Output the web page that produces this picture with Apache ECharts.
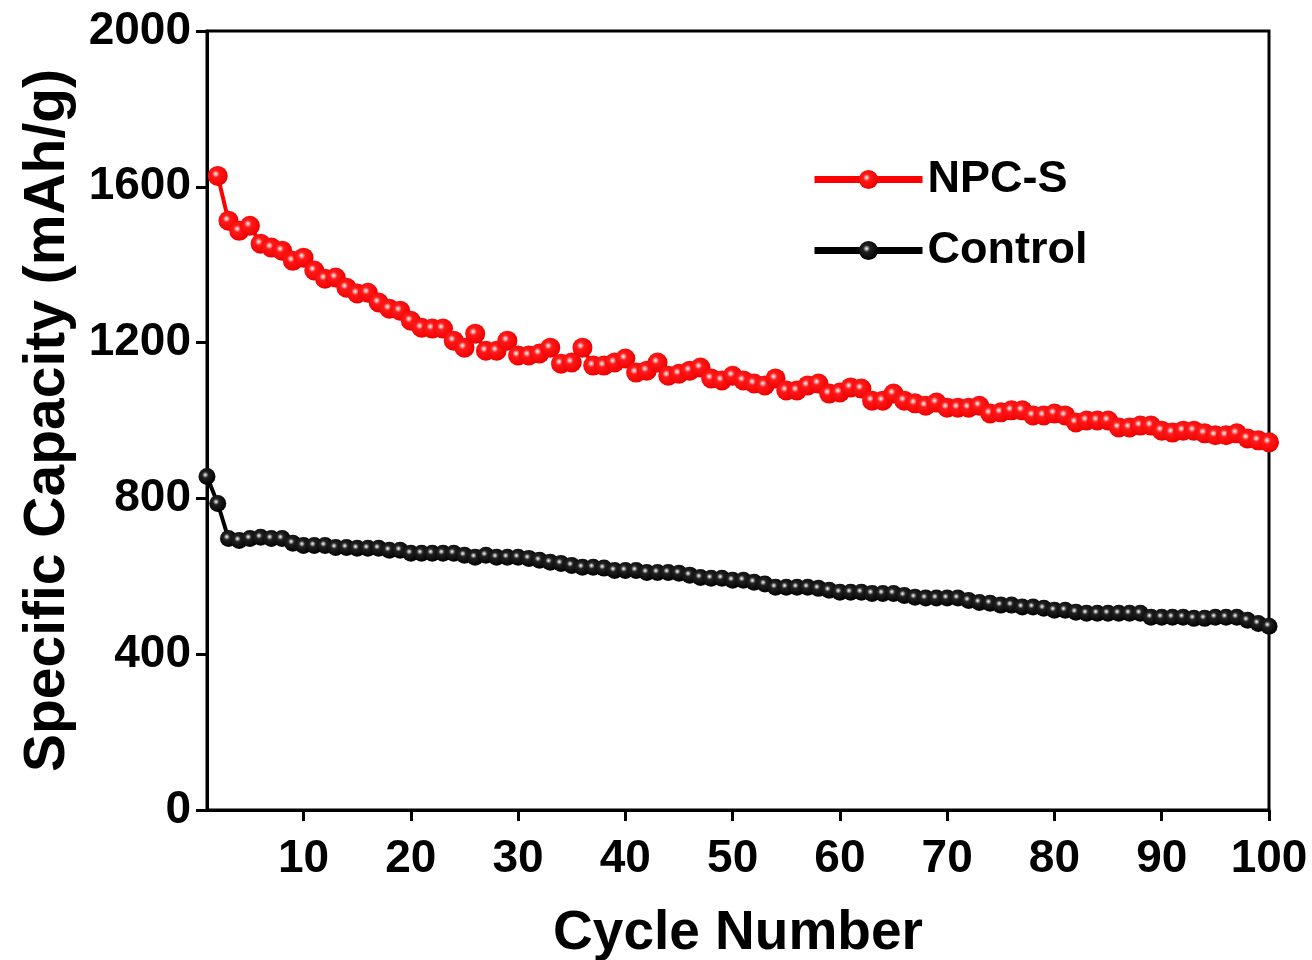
<!DOCTYPE html>
<html lang="en" style="height: 100%">
<head>
  <meta charset="utf-8">
  <title>Cycling performance</title>
</head>
<body style="height: 100%; margin: 0; background: #fff;">
  <div id="container" style="width: 1312px; height: 960px;"></div>

  <script type="text/javascript" src="https://cdn.jsdelivr.net/npm/echarts@6/dist/echarts.min.js"></script>
  <script type="text/javascript">
    // cycle numbers shown on the x axis
    var cycleTicks = [10, 20, 30, 40, 50, 60, 70, 80, 90, 100];
    var capacityTicks = [0, 400, 800, 1200, 1600, 2000];

    // specific capacity (mAh/g), one value per cycle 1..100
    var npcS = [
      null, 1628, 1513, 1487, 1500, 1454, 1444, 1436, 1410, 1418,
      1385, 1364, 1367, 1341, 1326, 1328, 1303, 1287, 1282, 1256,
      1238, 1236, 1236, 1205, 1187, 1223, 1179, 1179, 1205, 1167,
      1167, 1172, 1187, 1146, 1149, 1187, 1141, 1141, 1149, 1159,
      1123, 1128, 1149, 1115, 1120, 1128, 1136, 1108, 1103, 1115,
      1103, 1095, 1090, 1108, 1077, 1077, 1090, 1095, 1069, 1072,
      1085, 1082, 1051, 1051, 1069, 1051, 1044, 1038, 1046, 1033,
      1033, 1033, 1038, 1018, 1021, 1026, 1026, 1013, 1013, 1018,
      1013, 995, 1000, 1000, 1000, 982, 982, 987, 987, 974,
      969, 974, 974, 967, 962, 962, 967, 954, 949, 944
    ];
    var control = [
      856, 787, 697, 692, 697, 700, 697, 697, 685, 679,
      679, 679, 674, 674, 672, 672, 672, 667, 667, 659,
      659, 659, 659, 659, 654, 649, 654, 649, 649, 649,
      646, 641, 636, 633, 628, 623, 623, 621, 615, 615,
      615, 610, 610, 610, 608, 603, 597, 595, 595, 590,
      590, 585, 580, 572, 572, 572, 572, 569, 564, 559,
      559, 559, 556, 556, 556, 551, 546, 544, 544, 544,
      544, 538, 533, 531, 526, 526, 521, 521, 518, 513,
      513, 508, 505, 505, 505, 505, 505, 505, 495, 495,
      495, 495, 492, 492, 495, 495, 495, 487, 479, 472
    ];

    function toPairs(arr) {
      return arr.map(function (v, i) { return [i + 1, v]; });
    }

    function ball(base, dark) {
      return {
        type: 'radial', x: 0.4, y: 0.4, r: 0.6,
        colorStops: [
          { offset: 0, color: '#ffffff' },
          { offset: 0.3, color: base },
          { offset: 1, color: dark }
        ]
      };
    }

    var fontFamily = '"Liberation Sans", Arial, sans-serif';
    var dom = document.getElementById('container');
    var myChart = echarts.init(dom, null, { renderer: 'canvas' });

    var option = {
      backgroundColor: '#ffffff',
      animation: false,
      grid: {
        left: 207, right: 43, top: 31, bottom: 150,
        outerBoundsMode: 'none',
        show: true, borderColor: '#000', borderWidth: 3
      },
      legend: {
        left: 806, top: 152,
        orient: 'vertical',
        itemWidth: 108, itemHeight: 24, itemGap: 26,
        lineStyle: { width: 7 },
        textStyle: { fontFamily: fontFamily, fontSize: 45, fontWeight: 'bold', color: '#000' },
        data: ['NPC-S', 'Control']
      },
      xAxis: {
        type: 'value', min: 1, max: 100,
        name: 'Cycle Number', nameLocation: 'middle', nameGap: 96,
        nameTextStyle: { fontFamily: fontFamily, fontSize: 55, fontWeight: 'bold', color: '#000' },
        splitLine: { show: false },
        axisLine: { lineStyle: { color: '#000', width: 3 } },
        axisTick: { customValues: cycleTicks, length: 11, lineStyle: { width: 3, color: '#000' } },
        axisLabel: {
          customValues: cycleTicks, margin: 26,
          fontFamily: fontFamily, fontSize: 46, fontWeight: 'bold', color: '#000'
        }
      },
      yAxis: {
        type: 'value', min: 0, max: 2000, interval: 400,
        name: 'Specific Capacity (mAh/g)', nameLocation: 'middle', nameGap: 130,
        nameTextStyle: { fontFamily: fontFamily, fontSize: 57, fontWeight: 'bold', color: '#000' },
        splitLine: { show: false },
        axisLine: { show: true, lineStyle: { color: '#000', width: 3 } },
        axisTick: { show: true, length: 11, lineStyle: { width: 3, color: '#000' } },
        axisLabel: {
          margin: 16, fontFamily: fontFamily, fontSize: 46, fontWeight: 'bold', color: '#000',
          formatter: function (v) { return capacityTicks.indexOf(v) >= 0 ? String(v) : ''; }
        }
      },
      series: [
        {
          name: 'Control', type: 'line',
          data: toPairs(control),
          symbol: 'circle', symbolSize: 17,
          lineStyle: { color: '#000', width: 4 },
          itemStyle: { color: ball('#222', '#000'), borderWidth: 0 },
          z: 2
        },
        {
          name: 'NPC-S', type: 'line',
          data: toPairs(npcS),
          symbol: 'circle', symbolSize: 20,
          lineStyle: { color: '#ff0000', width: 4 },
          itemStyle: { color: ball('#ff1a1a', '#f00000'), borderWidth: 0 },
          z: 3
        }
      ]
    };
    myChart.setOption(option);
    window.addEventListener('resize', myChart.resize);
  </script>
</body>
</html>
